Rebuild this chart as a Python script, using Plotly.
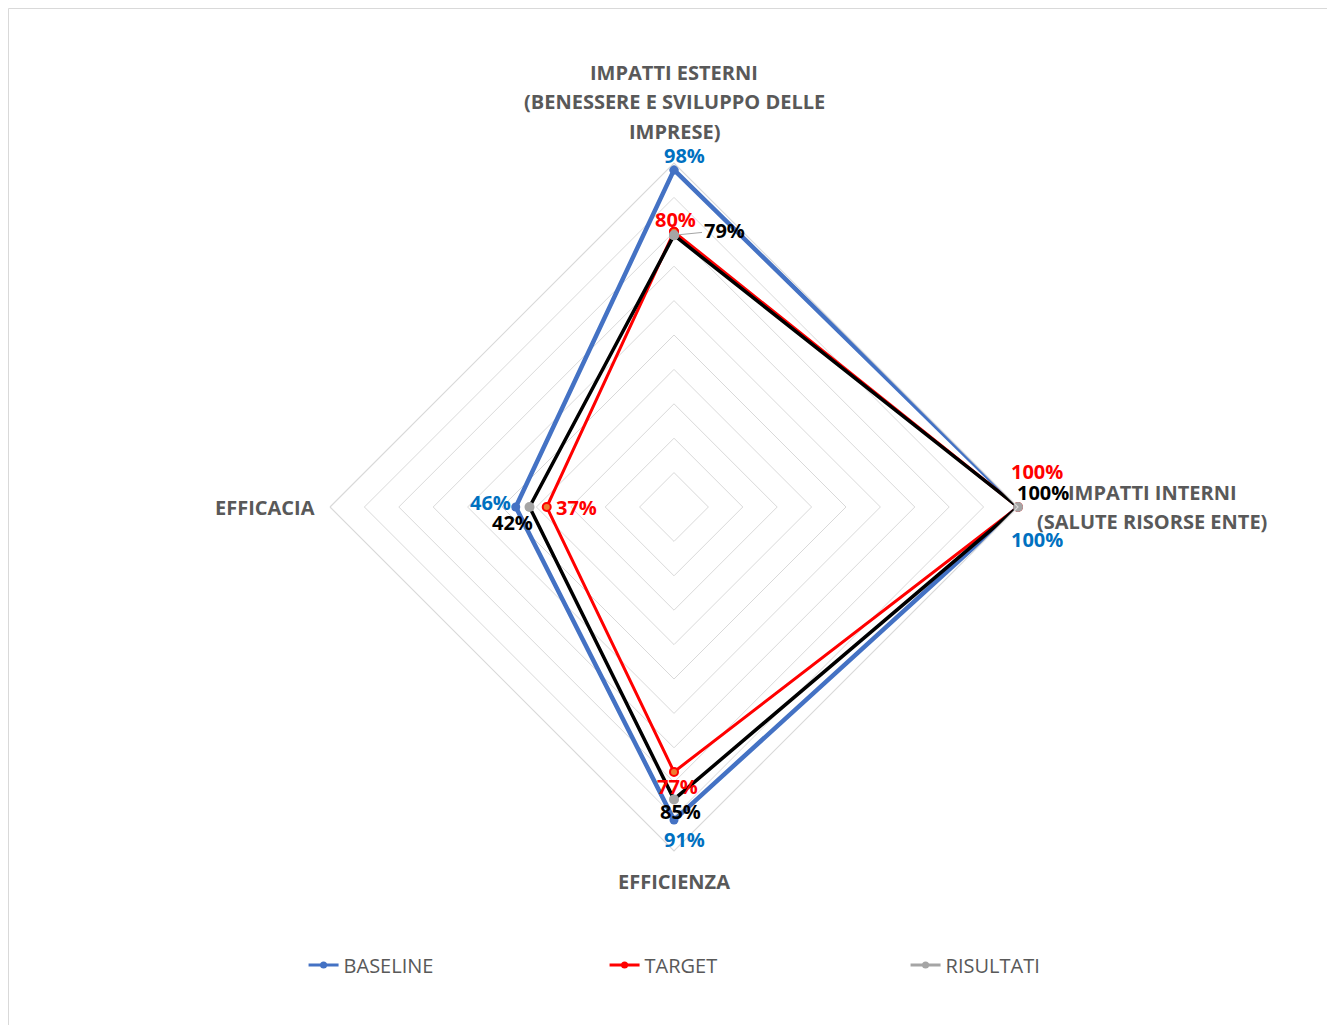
import math
import plotly.graph_objects as go

# ---------------- data ----------------
categories = ["IMPATTI ESTERNI (BENESSERE E SVILUPPO DELLE IMPRESE)",
              "IMPATTI INTERNI (SALUTE RISORSE ENTE)",
              "EFFICIENZA",
              "EFFICACIA"]
category_lines = [["IMPATTI ESTERNI", "(BENESSERE E SVILUPPO DELLE", "IMPRESE)"],
                  ["IMPATTI INTERNI", "(SALUTE RISORSE ENTE)"],
                  ["EFFICIENZA"],
                  ["EFFICACIA"]]
series_names = ["BASELINE", "TARGET", "RISULTATI"]
baseline = [0.98, 1.00, 0.91, 0.46]
target = [0.80, 1.00, 0.77, 0.37]
risultati = [0.79, 1.00, 0.85, 0.42]

# ---------------- layout geometry ----------------
W, H = 1327, 1025
CX, CY, R = 674, 507, 344

def px(x):
    return x / W

def py(y):
    return 1 - y / H

def point_px(v, i):
    th = math.radians(i * 90)
    return CX + v * R * math.sin(th), CY - v * R * math.cos(th)

fig = go.Figure()

styles = {
    "BASELINE": dict(line=dict(color="#4472C4", width=4.5),
                     marker=dict(color="#4472C4", size=9), label="#0070C0"),
    "TARGET": dict(line=dict(color="#FF0000", width=3),
                   marker=dict(color="#ED7D31", size=8, line=dict(color="#FF0000", width=2)), label="#FF0000"),
    "RISULTATI": dict(line=dict(color="#000000", width=3.5),
                      marker=dict(color="#A5A5A5", size=10), label="#000000"),
}
legend_colors = {"BASELINE": "#4472C4", "TARGET": "#FF0000", "RISULTATI": "#A5A5A5"}

all_series = [baseline, target, risultati]
theta_closed = categories + [categories[0]]
for name, vals in zip(series_names, all_series):
    st = styles[name]
    fig.add_trace(go.Scatterpolar(
        r=vals + [vals[0]], theta=theta_closed, mode="lines+markers",
        line=st["line"], marker=st["marker"], showlegend=False, name=name,
        hoverinfo="skip"))

for name in series_names:
    c = legend_colors[name]
    fig.add_trace(go.Scatterpolar(
        r=[None], theta=[categories[0]], mode="lines+markers", name=name,
        line=dict(color=c, width=3), marker=dict(color=c, size=7), showlegend=True))

# data label offsets (pixels) per series, per category
offsets = {
    "BASELINE": [(10, -14), (19, 32), (10, 19), (-25, -5)],
    "TARGET": [(2, -12), (19, -35), (3, 15), (30, 0)],
    "RISULTATI": [(50, -5), (25, -15), (6, 12), (-17, 15)],
}

annotations = []
for name, vals in zip(series_names, all_series):
    for i, v in enumerate(vals):
        x0, y0 = point_px(v, i)
        dx, dy = offsets[name][i]
        txt = f"{round(v * 100)}%"
        font = dict(family="Open Sans", size=20, color=styles[name]["label"], weight="bold")
        if name == "RISULTATI" and i == 0:
            annotations.append(dict(
                x=px(x0), y=py(y0), xref="paper", yref="paper", text=txt,
                showarrow=True, ax=dx, ay=dy, arrowhead=0, arrowwidth=1,
                arrowcolor="#A5A5A5", standoff=0, startstandoff=0, font=font))
        else:
            annotations.append(dict(
                x=px(x0 + dx), y=py(y0 + dy), xref="paper", yref="paper", text=txt,
                showarrow=False, xanchor="center", yanchor="middle", font=font))

# category labels
cat_positions = [
    [(674, 73), (674, 102), (674, 131)],
    [(1152, 492), (1152, 521)],
    [(674, 881)],
    [(265, 507)],
]
for lines, poss in zip(category_lines, cat_positions):
    for t, (x, y) in zip(lines, poss):
        annotations.append(dict(
            x=px(x), y=py(y), xref="paper", yref="paper", text=t, showarrow=False,
            xanchor="center", yanchor="middle",
            font=dict(family="Open Sans", size=20, color="#595959", weight="bold")))

fig.update_layout(
    width=W, height=H,
    margin=dict(l=0, r=0, t=0, b=0),
    paper_bgcolor="white",
    plot_bgcolor="white",
    polar=dict(
        domain=dict(x=[px(CX - R), px(CX + R)], y=[py(CY + R), py(CY - R)]),
        bgcolor="white",
        gridshape="linear",
        radialaxis=dict(range=[0, 1], dtick=0.1, showticklabels=False, ticks="",
                        showline=False, gridcolor="#D9D9D9", gridwidth=1.2),
        angularaxis=dict(direction="clockwise", rotation=90, showticklabels=False,
                         ticks="", showgrid=False, showline=True,
                         linecolor="#D9D9D9", linewidth=1.2),
    ),
    legend=dict(orientation="h", x=0.569, xanchor="center", y=py(965), yanchor="middle",
                font=dict(family="Open Sans", size=20, color="#595959"),
                entrywidth=256, entrywidthmode="pixels", itemwidth=30),
    annotations=annotations,
    shapes=[dict(type="rect", xref="paper", yref="paper",
                 x0=px(8.5), x1=px(1340), y0=py(1040), y1=py(8.5),
                 line=dict(color="#D9D9D9", width=1))],
)

fig.write_html("out.html")
